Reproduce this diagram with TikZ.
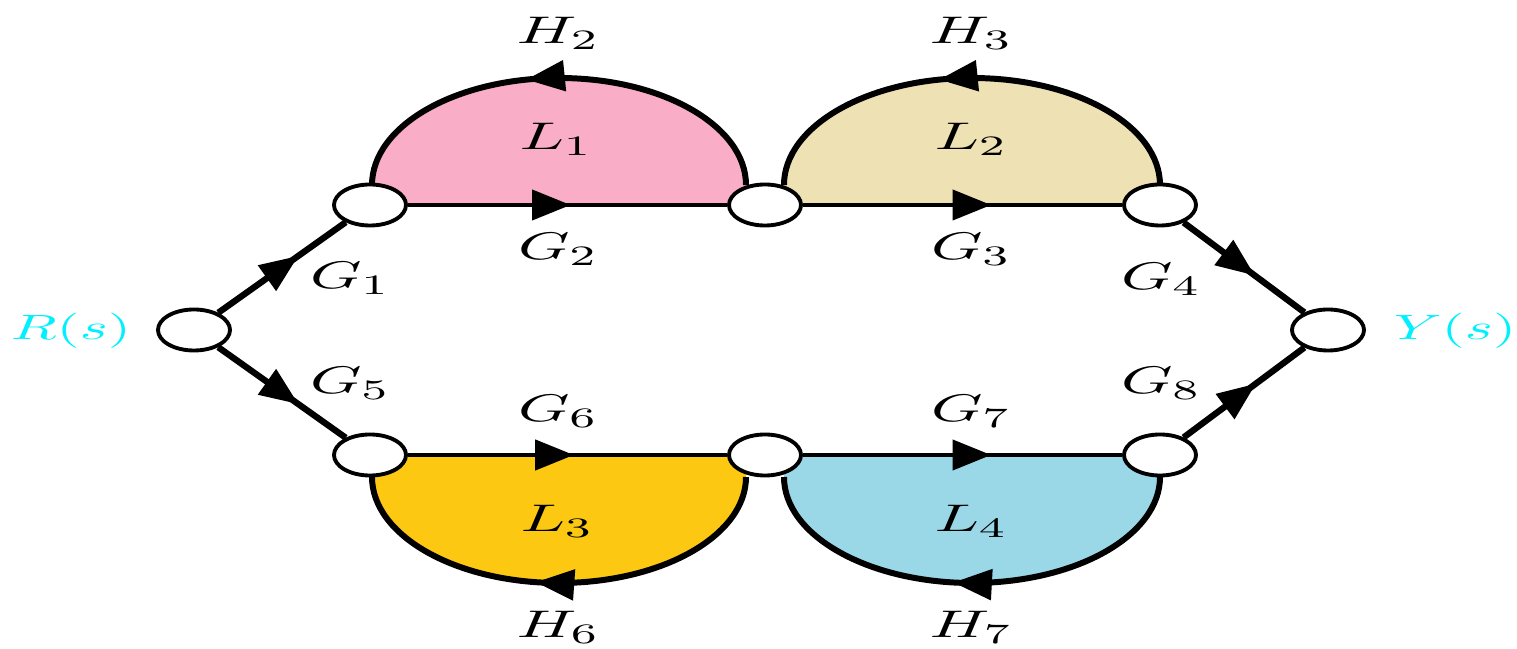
\documentclass[tikz,border=0pt]{standalone}
\usepackage{xcolor}
\usepackage{amsmath}
\usepackage{graphicx}
\usepackage{tikz}
\usetikzlibrary{arrows.meta, shapes.geometric, decorations.markings}

\definecolor{loopone}{HTML}{F9ADC6}
\definecolor{looptwo}{HTML}{EEE1B3}
\definecolor{loopthree}{HTML}{FCC812}
\definecolor{loopfour}{HTML}{9AD8E8}
\definecolor{sigcyan}{HTML}{00F0FF}

\newcommand{\widelbl}[1]{\scalebox{1.7}[1]{#1}}

\begin{document}
\begin{tikzpicture}[
    x=0.01cm, y=0.01cm,
    snode/.style={draw, ellipse, fill=white, line width=1.1pt, minimum width=0.72cm, minimum height=0.41cm, inner sep=0pt},
    glabel/.style={font=\fontsize{11.4}{13}\selectfont, inner sep=0pt},
    siglabel/.style={font=\fontsize{10}{12}\selectfont, text=sigcyan, inner sep=0pt},
    branch/.style={line width=1.3pt, postaction={decorate},
        decoration={markings, mark=at position #1 with {\arrow{Triangle[length=11pt, width=8.5pt]}}}},
    branch/.default=0.5
]
\useasboundingbox (0,0) rectangle (1517,-649);

% loop ends on the nodes
\coordinate (t1e) at (372,-185);
\coordinate (t2w) at (746,-185);
\coordinate (t2e) at (784,-185);
\coordinate (t3w) at (1160,-185);
\coordinate (b1e) at (372,-477);
\coordinate (b2w) at (746,-477);
\coordinate (b2e) at (784,-477);
\coordinate (b3w) at (1160,-477);

% coloured loops
\fill[loopone] (372,-205) -- (t1e) arc[start angle=180, end angle=0, x radius=187, y radius=107] -- (746,-205) -- cycle;
\fill[looptwo] (784,-205) -- (t2e) arc[start angle=180, end angle=0, x radius=188, y radius=107] -- (1160,-205) -- cycle;
\fill[loopthree] (372,-455) -- (b1e) arc[start angle=180, end angle=360, x radius=187, y radius=106] -- (746,-455) -- cycle;
\fill[loopfour] (784,-455) -- (b2e) arc[start angle=180, end angle=360, x radius=188, y radius=106] -- (1160,-455) -- cycle;

% feedback arcs
\draw[branch=0.57, line width=1.7pt] (t2w) arc[start angle=0, end angle=180, x radius=187, y radius=107];
\draw[branch=0.57, line width=1.7pt] (t3w) arc[start angle=0, end angle=180, x radius=188, y radius=107];
\draw[branch=0.55, line width=1.7pt] (b2w) arc[start angle=0, end angle=-180, x radius=187, y radius=106];
\draw[branch=0.54, line width=1.7pt] (b3w) arc[start angle=0, end angle=-180, x radius=188, y radius=106];

% signal nodes
\node[snode] (r) at (194,-330) {};
\node[snode] (t1) at (370,-205) {};
\node[snode] (t2) at (765,-205) {};
\node[snode] (t3) at (1160,-205) {};
\node[snode] (y) at (1328,-330) {};
\node[snode] (b1) at (370,-455) {};
\node[snode] (b2) at (765,-455) {};
\node[snode] (b3) at (1160,-455) {};

% forward branches
\draw[branch=0.63, line width=1.8pt] (r) -- (t1);
\draw[branch=0.51] (t1) -- (t2);
\draw[branch=0.59] (t2) -- (t3);
\draw[branch=0.59, line width=1.8pt] (t3) -- (y);
\draw[branch=0.63, line width=1.8pt] (r) -- (b1);
\draw[branch=0.52] (b1) -- (b2);
\draw[branch=0.59] (b2) -- (b3);
\draw[branch=0.6, line width=1.8pt] (b3) -- (y);

% labels
\node[siglabel] (lr) at (71,-331) {\widelbl{$R(s)$}};
\node[siglabel] (ly) at (1455,-331) {\widelbl{$Y(s)$}};
\node[glabel] (lg1) at (350,-278) {\widelbl{$G_1$}};
\node[glabel] (lg2) at (558,-249) {\widelbl{$G_2$}};
\node[glabel] (lg3) at (971,-249) {\widelbl{$G_3$}};
\node[glabel] (lg4) at (1161,-279) {\widelbl{$G_4$}};
\node[glabel] (lg5) at (350,-383) {\widelbl{$G_5$}};
\node[glabel] (lg6) at (558,-411) {\widelbl{$G_6$}};
\node[glabel] (lg7) at (971,-411) {\widelbl{$G_7$}};
\node[glabel] (lg8) at (1161,-383) {\widelbl{$G_8$}};
\node[glabel] (lh2) at (558,-33) {\widelbl{$H_2$}};
\node[glabel] (lh3) at (971,-33) {\widelbl{$H_3$}};
\node[glabel] (lh6) at (558,-627) {\widelbl{$H_6$}};
\node[glabel] (lh7) at (971,-627) {\widelbl{$H_7$}};
\node[glabel] (ll1) at (556,-139) {\widelbl{$L_1$}};
\node[glabel] (ll2) at (971,-139) {\widelbl{$L_2$}};
\node[glabel] (ll3) at (557,-521) {\widelbl{$L_3$}};
\node[glabel] (ll4) at (971,-521) {\widelbl{$L_4$}};
\end{tikzpicture}
\end{document}
